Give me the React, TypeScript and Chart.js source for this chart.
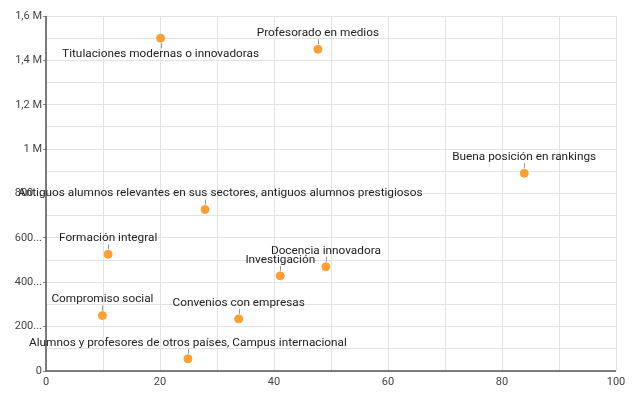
import React, { useEffect, useRef } from "react";
import { Chart, registerables } from "chart.js";

Chart.register(...registerables);

const categories: string[] = [
  "Titulaciones modernas o innovadoras",
  "Profesorado en medios",
  "Buena posición en rankings",
  "Antiguos alumnos relevantes en sus sectores, antiguos alumnos prestigiosos",
  "Formación integral",
  "Docencia innovadora",
  "Investigación",
  "Compromiso social",
  "Convenios con empresas",
  "Alumnos y profesores de otros países, Campus internacional",
];
const xValues: number[] = [20.1, 47.7, 83.9, 27.9, 10.9, 49.1, 41.1, 9.9, 33.8, 24.9];
const yValues: number[] = [1500000, 1450000, 891000, 728000, 526000, 470000, 429000, 250000, 235000, 55000];
const labelBelow: boolean[] = [true, false, false, false, false, false, false, false, false, false];

const yTickLabels: Record<number, string> = {
  0: "0",
  200000: "200...",
  400000: "400...",
  600000: "600...",
  800000: "800...",
  1000000: "1 M",
  1200000: "1,2 M",
  1400000: "1,4 M",
  1600000: "1,6 M",
};

const FONT = "Roboto, 'Noto Sans', sans-serif";

const axisLines = {
  id: "axisLines",
  beforeDatasetsDraw(chart: any) {
    const { ctx, chartArea } = chart;
    ctx.save();
    ctx.strokeStyle = "#555555";
    ctx.lineWidth = 1.5;
    ctx.beginPath();
    ctx.moveTo(chartArea.left, chartArea.top);
    ctx.lineTo(chartArea.left, chartArea.bottom);
    ctx.lineTo(chartArea.right, chartArea.bottom);
    ctx.stroke();
    ctx.restore();
  },
};

const pointLabels = {
  id: "pointLabels",
  afterDatasetsDraw(chart: any) {
    const ctx = chart.ctx;
    const meta = chart.getDatasetMeta(0);
    ctx.save();
    ctx.font = `11.8px ${FONT}`;
    ctx.textAlign = "center";
    ctx.textBaseline = "middle";
    meta.data.forEach((el: any, i: number) => {
      const below = labelBelow[i];
      const dir = below ? 1 : -1;
      ctx.strokeStyle = "#999999";
      ctx.lineWidth = 1;
      ctx.beginPath();
      ctx.moveTo(Math.round(el.x) + 0.5, el.y + dir * 5);
      ctx.lineTo(Math.round(el.x) + 0.5, el.y + dir * 10);
      ctx.stroke();
      ctx.fillStyle = "#222222";
      const w = ctx.measureText(categories[i]).width;
      let cx = el.x;
      if (cx - w / 2 < 10) cx = 10 + w / 2;
      ctx.fillText(categories[i], cx, el.y + dir * 16);
    });
    ctx.restore();
  },
};

export default function App() {
  const ref = useRef<HTMLCanvasElement | null>(null);
  useEffect(() => {
    if (!ref.current) return;
    const chart = new Chart(ref.current, {
      type: "scatter",
      data: {
        datasets: [
          {
            data: xValues.map((x, i) => ({ x, y: yValues[i] })),
            backgroundColor: "#ff9e33",
            borderColor: "#ff9e33",
            pointRadius: 4,
            pointHoverRadius: 4,
          },
        ],
      },
      options: {
        animation: false,
        responsive: false,
        maintainAspectRatio: false,
        layout: { padding: { left: 0, right: 16, top: 8, bottom: 0 } },
        plugins: { legend: { display: false }, tooltip: { enabled: false } },
        scales: {
          x: {
            type: "linear",
            min: 0,
            max: 100,
            afterFit: (s: any) => {
              s.height = 23;
            },
            ticks: {
              stepSize: 10,
              autoSkip: false,
              maxRotation: 0,
              color: "#444444",
              font: { family: FONT, size: 11 },
              padding: 2,
              callback: (v: any) => (Number(v) % 20 === 0 ? String(v) : ""),
            },
            grid: { color: "#e3e3e3", tickLength: 3, tickColor: "rgba(0,0,0,0)" },
            border: { display: false },
          },
          y: {
            type: "linear",
            min: 0,
            max: 1600000,
            afterFit: (s: any) => {
              s.width = 38;
            },
            ticks: {
              stepSize: 100000,
              autoSkip: false,
              color: "#444444",
              font: { family: FONT, size: 11 },
              padding: 1,
              callback: (v: any) => {
                const n = Math.round(Number(v));
                return yTickLabels[n] !== undefined ? yTickLabels[n] : "";
              },
            },
            grid: {
              color: "#e3e3e3",
              tickLength: 3,
              tickColor: (c: any) =>
                c.tick && yTickLabels[Math.round(c.tick.value)] !== undefined ? "#888888" : "rgba(0,0,0,0)",
            },
            border: { display: false },
          },
        },
      },
      plugins: [axisLines, pointLabels],
    } as any);
    return () => chart.destroy();
  }, []);
  return (
    <div style={{ width: 624, height: 386 }}>
      <canvas ref={ref} width={624} height={386} style={{ display: "block" }} />
    </div>
  );
}
